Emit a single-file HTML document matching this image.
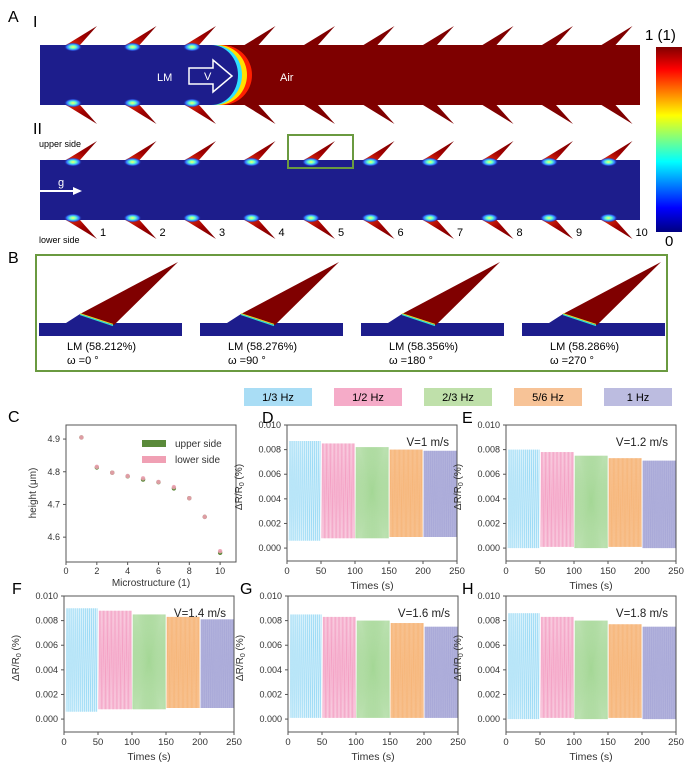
<!DOCTYPE html>
<html><head><meta charset="utf-8"><style>
body{margin:0;background:#fff}
svg{display:block;font-family:"Liberation Sans",Arial,sans-serif}
</style></head><body>
<svg id="fig" width="694" height="765" viewBox="0 0 694 765" xmlns="http://www.w3.org/2000/svg">
<defs>
<linearGradient id="jet" x1="0" y1="0" x2="0" y2="1">
<stop offset="0" stop-color="#800000"/><stop offset="0.12" stop-color="#ff0000"/><stop offset="0.37" stop-color="#ffff00"/><stop offset="0.62" stop-color="#00ffff"/><stop offset="0.87" stop-color="#0000ff"/><stop offset="1" stop-color="#000080"/>
</linearGradient>
<linearGradient id="spk" x1="0" y1="1" x2="1" y2="0">
<stop offset="0" stop-color="#e83010"/><stop offset="0.45" stop-color="#a00000"/><stop offset="1" stop-color="#7a0000"/>
</linearGradient>
<linearGradient id="spkd" x1="0" y1="0" x2="1" y2="1">
<stop offset="0" stop-color="#e83010"/><stop offset="0.45" stop-color="#a00000"/><stop offset="1" stop-color="#7a0000"/>
</linearGradient>
<radialGradient id="glow">
<stop offset="0" stop-color="#ffff60"/><stop offset="0.35" stop-color="#60ffd0"/><stop offset="0.7" stop-color="#3070ff"/><stop offset="1" stop-color="#1d1d8c" stop-opacity="0"/>
</radialGradient>
</defs>
<g id="panelA"></g>
<g id="panelB"></g>
<g id="legend"></g>
<g id="charts"></g>
</svg>
<script>
// ---- Chart data ----
const microIdx = [1,2,3,4,5,6,7,8,9,10];
const upperH = [4.905,4.813,4.797,4.786,4.776,4.768,4.749,4.719,4.662,4.552];
const lowerH = [4.905,4.815,4.797,4.787,4.780,4.769,4.753,4.719,4.662,4.557];
const cTicksX = [0,2,4,6,8,10];
const cTicksY = [4.6,4.7,4.8,4.9];
const freqLabels = ["1/3 Hz","1/2 Hz","2/3 Hz","5/6 Hz","1 Hz"];
const freqs = [1/3,1/2,2/3,5/6,1];
const segStarts = [0,50,100,150,200];
const velocities = ["V=1 m/s","V=1.2 m/s","V=1.4 m/s","V=1.6 m/s","V=1.8 m/s"];
const maxD = [0.0087,0.0085,0.0082,0.0080,0.0079];
const minD = [0.0006,0.0008,0.0008,0.0009,0.0009];
const maxE = [0.0080,0.0078,0.0075,0.0073,0.0071];
const minE = [0.0000,0.0001,0.0000,0.0001,0.0000];
const maxF = [0.0090,0.0088,0.0085,0.0083,0.0081];
const minF = [0.0006,0.0008,0.0008,0.0009,0.0009];
const maxG = [0.0085,0.0083,0.0080,0.0078,0.0075];
const minG = [0.0001,0.0001,0.0001,0.0001,0.0001];
const maxH = [0.0086,0.0083,0.0080,0.0077,0.0075];
const minH = [0.0000,0.0001,0.0000,0.0001,0.0000];
const tTicks = [0,50,100,150,200,250];
const rTicks = [0,0.002,0.004,0.006,0.008,0.010];
const segColors = ["#8fd6f4","#f294bc","#9ad28a","#f6b070","#a4a4d6"];
const boxColors = ["#a9ddf5","#f5abc8","#bfe0aa","#f7c397","#bcbce0"];

const NS="http://www.w3.org/2000/svg";
function mk(parent,tag,attrs,text){const e=document.createElementNS(NS,tag);for(const k in attrs)e.setAttribute(k,attrs[k]);if(text!==undefined)e.textContent=text;parent.appendChild(e);return e;}

// ---- Panel A ----
const A=document.getElementById('panelA');
let t=mk(A,'text',{x:8,y:22,'font-size':16},'A');


t=mk(A,'text',{x:33,y:27,'font-size':16},'I');


t=mk(A,'text',{x:33,y:134,'font-size':16},'II');


function spike(g,x,yb,ytip,fill){
  const p=mk(g,'polygon',{points:`${x+1},${yb} ${x+15},${yb} ${x+32},${ytip}`,fill:fill});
  
  
}
function glow(g,x,yb,up){
  mk(g,'ellipse',{cx:x+8,cy:up?yb+2:yb-2,rx:9,ry:4.5,fill:'url(#glow)'});
}
// channel I
let ch=mk(A,'rect',{x:40,y:45,width:600,height:60,fill:'#7e0000'});


mk(A,'path',{d:'M40,45 H222 A30,30 0 0 1 222,105 H40 Z',fill:'#ff2000'});
mk(A,'path',{d:'M40,45 H218 A29,30 0 0 1 218,105 H40 Z',fill:'#ffe000'});
mk(A,'path',{d:'M40,45 H214 A28,30 0 0 1 214,105 H40 Z',fill:'#30e0ff'});
mk(A,'path',{d:'M40,45 H211 A27,30 0 0 1 211,105 H40 Z',fill:'#1d1d8c'});
for(let i=0;i<10;i++){
  const x=65+59.5*i;
  spike(A,x,45,26,i<3?'url(#spk)':'#800000');
  spike(A,x,105,124,i<3?'url(#spkd)':'#800000');
  if(i<3){glow(A,x,45,true);glow(A,x,105,false);}
}
t=mk(A,'text',{x:157,y:81,'font-size':11,fill:'#fff'},'LM');


let ar=mk(A,'path',{d:'M189,68 H213 V60 L232,76 L213,92 V84 H189 Z',fill:'none',stroke:'#fff','stroke-width':1.5});


mk(A,'text',{x:204,y:80,'font-size':11,fill:'#fff'},'V');
t=mk(A,'text',{x:280,y:81,'font-size':11,fill:'#fff'},'Air');


// channel II
ch=mk(A,'rect',{x:40,y:160,width:600,height:60,fill:'#1d1d8c'});


for(let i=0;i<10;i++){
  const x=65+59.5*i;
  spike(A,x,160,141,'url(#spk)');
  glow(A,x,160,true);
  spike(A,x,220,239,'url(#spkd)');
  glow(A,x,220,false);
  t=mk(A,'text',{x:100+59.5*i,y:236,'font-size':11},String(i+1));
  
  
}
let gb=mk(A,'rect',{x:288,y:135,width:65,height:33,fill:'none',stroke:'#6a9a40','stroke-width':2});


t=mk(A,'text',{x:39,y:147,'font-size':9},'upper side');


t=mk(A,'text',{x:39,y:243,'font-size':9},'lower side');


mk(A,'text',{x:58,y:186,'font-size':11,fill:'#fff'},'g');
ar=mk(A,'path',{d:'M40,191 H74',stroke:'#fff','stroke-width':2});


mk(A,'polygon',{points:'73,187 82,191 73,195',fill:'#fff'});
// colorbar
let cb=mk(A,'rect',{x:656,y:47,width:26,height:185,fill:'url(#jet)'});


t=mk(A,'text',{x:645,y:40,'font-size':15},'1 (1)');


t=mk(A,'text',{x:665,y:246,'font-size':15},'0');



// ---- Panel B ----
const B=document.getElementById('panelB');
t=mk(B,'text',{x:8,y:263,'font-size':16},'B');


let bb=mk(B,'rect',{x:36,y:255,width:631,height:116,fill:'none',stroke:'#6a9a40','stroke-width':2});


const bLabels=["LM (58.212%)","LM (58.276%)","LM (58.356%)","LM (58.286%)"];
const bOmega=["ω =0 °","ω =90 °","ω =180 °","ω =270 °"];
for(let i=0;i<4;i++){
  const o=161*i;
  const g=mk(B,'g',{});
  
  
  mk(g,'rect',{x:39+o,y:323,width:143,height:13,fill:'#1d1d8c'});
  mk(g,'polygon',{points:`${66+o},323 ${80+o},314 ${113+o},325 ${116+o},323`,fill:'#1d1d8c'});
  mk(g,'polygon',{points:`${80+o},314 ${178+o},262 ${114+o},325`,fill:'#800000'});
  mk(g,'line',{x1:80+o,y1:314.5,x2:113+o,y2:325.5,stroke:'#30e0d0','stroke-width':1.2});
  mk(g,'line',{x1:80+o,y1:313.5,x2:113+o,y2:324.2,stroke:'#f0e020','stroke-width':0.8});
  mk(g,'text',{x:67+o,y:350,'font-size':11},bLabels[i]);
  mk(g,'text',{x:67+o,y:364,'font-size':11},bOmega[i]);
}

// ---- Legend ----
const L=document.getElementById('legend');
for(let i=0;i<5;i++){
  const g=mk(L,'g',{});
  
  
  mk(g,'rect',{x:244+90*i,y:388,width:68,height:18,fill:boxColors[i]});
  mk(g,'text',{x:278+90*i,y:401,'font-size':11,'text-anchor':'middle'},freqLabels[i]);
}

// ---- Charts ----
const C=document.getElementById('charts');
function axes(x0,y0,w,h,xmin,xmax,ymin,ymax){
  return {sx:v=>x0+(v-xmin)/(xmax-xmin)*w, sy:v=>y0+h-(v-ymin)/(ymax-ymin)*h};
}
// Panel C
(function(){
  const x0=66,y0=425,w=170,h=137;
  const g=mk(C,'g',{});
  
  
  const ax=axes(x0,y0,w,h,0,11.03,4.524,4.943);
  t=mk(g,'text',{x:8,y:422,'font-size':16},'C');
  
  
  mk(g,'rect',{x:x0,y:y0,width:w,height:h,fill:'none',stroke:'#555','stroke-width':1});
  cTicksX.forEach(v=>{const x=ax.sx(v);mk(g,'line',{x1:x,y1:y0+h,x2:x,y2:y0+h+3,stroke:'#555'});
    const tt=mk(g,'text',{x:x,y:y0+h+12,'font-size':9,'text-anchor':'middle',fill:'#333'},String(v));
    
    });
  cTicksY.forEach(v=>{const y=ax.sy(v);mk(g,'line',{x1:x0,y1:y,x2:x0-3,y2:y,stroke:'#555'});
    const tt=mk(g,'text',{x:x0-6,y:y+3,'font-size':9,'text-anchor':'end',fill:'#333'},v.toFixed(1));
    
    });
  t=mk(g,'text',{x:151,y:586,'font-size':10,'text-anchor':'middle',fill:'#333'},'Microstructure (1)');
  
  
  t=mk(g,'text',{x:0,y:0,'font-size':10,'text-anchor':'middle',fill:'#333',transform:'translate(36,493) rotate(-90)'},'height (μm)');
  
  
  microIdx.forEach((m,i)=>{
    let c=mk(g,'circle',{cx:ax.sx(m),cy:ax.sy(upperH[i]),r:2.2,fill:'#5a8a3a'});
    
    
    c=mk(g,'circle',{cx:ax.sx(m),cy:ax.sy(lowerH[i]),r:2.2,fill:'#ec9fb0',opacity:0.9});
    
    
  });
  let r=mk(g,'rect',{x:142,y:440,width:24,height:7,fill:'#5a8a3a'});
  
  
  mk(g,'text',{x:175,y:447,'font-size':10,fill:'#333'},'upper side');
  r=mk(g,'rect',{x:142,y:456,width:24,height:7,fill:'#f0a0b4'});
  
  
  mk(g,'text',{x:175,y:463,'font-size':10,fill:'#333'},'lower side');
})();

function signalChart(letter,x0,y0,vel,maxs,mins,letterX){
  const w=170,h=136;
  const g=mk(C,'g',{});
  
  
  const ax=axes(x0,y0,w,h,0,250,-0.00105,0.010);
  t=mk(g,'text',{x:letterX,y:y0-2,'font-size':16},letter);
  
  
  for(let k=0;k<5;k++){
    const s=segStarts[k];
    const a=s+(k==0?3:1), b=s+49;
    const band=mk(g,'rect',{x:ax.sx(a),y:ax.sy(maxs[k]),width:ax.sx(b)-ax.sx(a),height:ax.sy(mins[k])-ax.sy(maxs[k]),fill:segColors[k],opacity:0.35});
    
    
    const per=1/freqs[k];
    let pts=[];
    for(let tt=a;tt<=b;tt+=per){
      pts.push(ax.sx(tt)+','+ax.sy(mins[k]));
      pts.push(ax.sx(Math.min(b,tt+per/2))+','+ax.sy(maxs[k]));
    }
    const pl=mk(g,'polyline',{points:pts.join(' '),fill:'none',stroke:segColors[k],'stroke-width':0.5,opacity:0.85});
    
    
  }
  mk(g,'rect',{x:x0,y:y0,width:w,height:h,fill:'none',stroke:'#555','stroke-width':1});
  tTicks.forEach(v=>{const x=ax.sx(v);mk(g,'line',{x1:x,y1:y0+h,x2:x,y2:y0+h+3,stroke:'#555'});
    const tt=mk(g,'text',{x:x,y:y0+h+13,'font-size':9.5,'text-anchor':'middle',fill:'#333'},String(v));
    
    });
  rTicks.forEach(v=>{const y=ax.sy(v);mk(g,'line',{x1:x0,y1:y,x2:x0-3,y2:y,stroke:'#555'});
    const tt=mk(g,'text',{x:x0-6,y:y+3,'font-size':9,'text-anchor':'end',fill:'#333'},v.toFixed(3));
    
    });
  t=mk(g,'text',{x:x0+85,y:y0+h+28,'font-size':10.5,'text-anchor':'middle',fill:'#333'},'Times (s)');
  
  
  t=mk(g,'text',{x:0,y:0,'font-size':10,'text-anchor':'middle',fill:'#333',transform:`translate(${x0-45},${y0+62}) rotate(-90)`});
  t.innerHTML='ΔR/R<tspan font-size="7" dy="2">0</tspan><tspan dy="-2"> (%)</tspan>';
  
  
  t=mk(g,'text',{x:x0+162,y:y0+21,'font-size':11.5,'text-anchor':'end',fill:'#222'},vel);
  
  
}
signalChart('D',287,425,velocities[0],maxD,minD,262);
signalChart('E',506,425,velocities[1],maxE,minE,462);
signalChart('F',64,596,velocities[2],maxF,minF,12);
signalChart('G',288,596,velocities[3],maxG,minG,240);
signalChart('H',506,596,velocities[4],maxH,minH,462);
</script>
</body></html>
